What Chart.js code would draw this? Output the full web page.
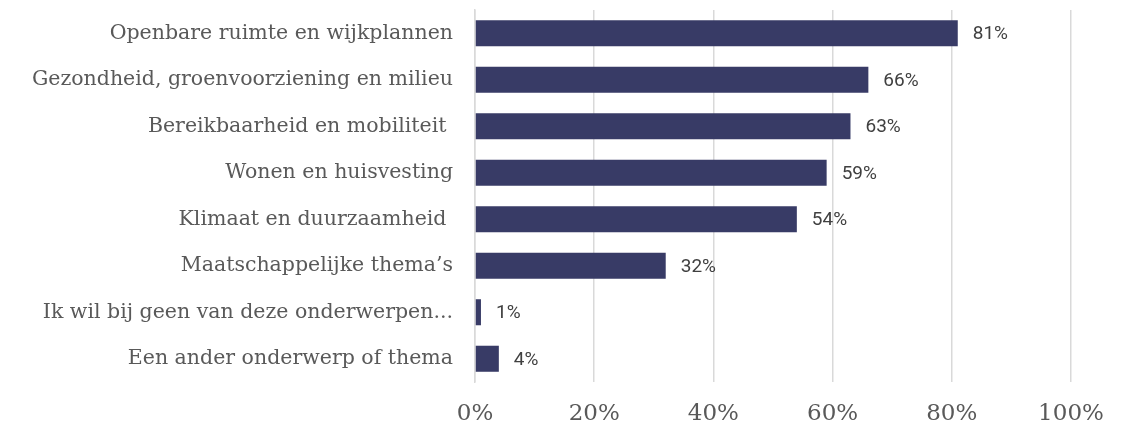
<!DOCTYPE html>
<html>
<head>
<meta charset="utf-8">
<script src="https://cdn.jsdelivr.net/npm/chart.js@4"></script>
<style>
  html, body { margin: 0; padding: 0; background: #fff; }
  #wrap { width: 1130px; height: 425px; }
</style>
</head>
<body>
<div id="wrap"><canvas id="themeChart"></canvas></div>
<script>
const categories = [
    'Openbare ruimte en wijkplannen',
    'Gezondheid, groenvoorziening en milieu',
    'Bereikbaarheid en mobiliteit ',
    'Wonen en huisvesting',
    'Klimaat en duurzaamheid ',
    'Maatschappelijke thema\u2019s',
    'Ik wil bij geen van deze onderwerpen...',
    'Een ander onderwerp of thema'
];
const values = [81, 66, 63, 59, 54, 32, 1, 4];
const xTicks = [0, 20, 40, 60, 80, 100];

const barColor = '#383b66';
const gridColor = '#d9d9d9';
const serifFont = "'DejaVu Serif', 'Liberation Serif', serif";

// draws the "81%" style labels at the end of each bar
const valueLabels = {
    id: 'valueLabels',
    afterDatasetsDraw(chart) {
        const ctx = chart.ctx;
        const meta = chart.getDatasetMeta(0);
        ctx.save();
        ctx.font = "19px Roboto, 'Liberation Sans', sans-serif";
        ctx.fillStyle = '#404040';
        ctx.textAlign = 'left';
        ctx.textBaseline = 'middle';
        meta.data.forEach((bar, i) => {
            ctx.fillText(values[i] + '%', bar.x + 15, bar.y + 1);
        });
        ctx.restore();
    }
};

const ctx = document.getElementById('themeChart').getContext('2d');
new Chart(ctx, {
    type: 'bar',
    data: {
        labels: categories,
        datasets: [{
            data: values,
            backgroundColor: barColor,
            barPercentage: 0.56,
            categoryPercentage: 1.0
        }]
    },
    options: {
        indexAxis: 'y',
        responsive: true,
        maintainAspectRatio: false,
        animation: false,
        layout: { padding: { top: 10, right: 59, bottom: 0, left: 0 } },
        plugins: {
            legend: { display: false },
            tooltip: { enabled: false }
        },
        scales: {
            x: {
                min: 0,
                max: 100,
                afterBuildTicks(axis) {
                    axis.ticks = xTicks.map(v => ({ value: v }));
                },
                afterFit(axis) {
                    axis.height = 43;
                    axis.paddingLeft = 0;
                    axis.paddingRight = 0;
                },
                grid: { color: gridColor, lineWidth: 1.5, drawTicks: false },
                border: { display: false },
                ticks: {
                    padding: 18,
                    color: '#595959',
                    font: { family: serifFont, size: 23 },
                    callback: v => v + '%'
                }
            },
            y: {
                afterFit(axis) {
                    axis.width = 475;
                    axis.paddingTop = 0;
                    axis.paddingBottom = 0;
                },
                grid: { display: false, drawTicks: false },
                border: { display: true, color: gridColor, width: 1.5 },
                ticks: {
                    padding: 22,
                    color: '#595959',
                    font: { family: serifFont, size: 20.5 },
                    autoSkip: false
                }
            }
        }
    },
    plugins: [valueLabels]
});
</script>
</body>
</html>
